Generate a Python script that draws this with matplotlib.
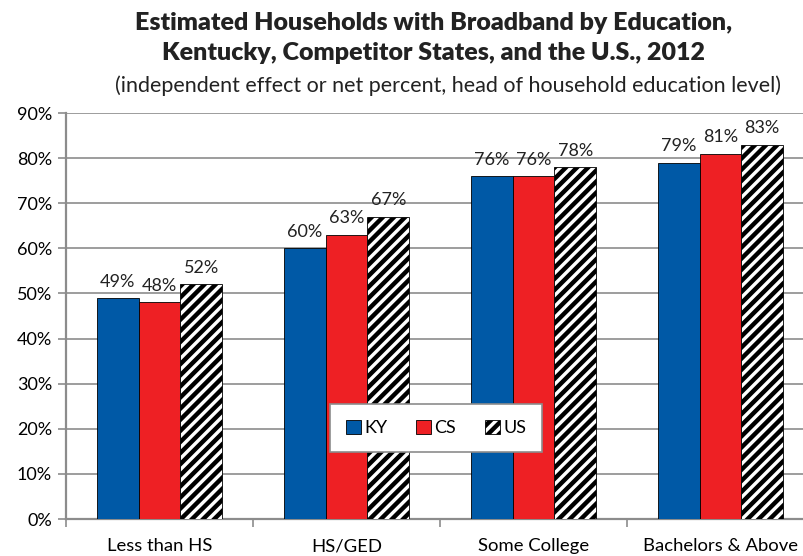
import numpy as np
import matplotlib
matplotlib.use("Agg")
from matplotlib import pyplot as plt

categories = ["Less than HS", "HS/GED", "Some College", "Bachelors & Above"]
ky = [49, 60, 76, 79]
cs = [48, 63, 76, 81]
us = [52, 67, 78, 83]
series_names = ["KY", "CS", "US"]

plt.rcParams["font.family"] = ["Lato", "DejaVu Sans"]
plt.rcParams["hatch.linewidth"] = 3.2

W, H = 804, 556
fig = plt.figure(figsize=(W / 100, H / 100), dpi=100)
# axes run past the right edge of the picture, as in the original crop
ax = fig.add_axes([66 / W, 1 - 519 / H, 748 / W, 406 / H])

grey = "#8c8c8c"
x = np.arange(len(categories))
bw = 0.223
kw = dict(edgecolor="black", linewidth=0.6)
b1 = ax.bar(x - bw, ky, bw, color="#0059a6", **kw, zorder=3)
b2 = ax.bar(x, cs, bw, color="#ee2024", **kw, zorder=3)
b3 = ax.bar(x + bw, us, bw, color="white", hatch="///", **kw, zorder=3)

for bars, vals in ((b1, ky), (b2, cs), (b3, us)):
    for r, v in zip(bars, vals):
        ax.annotate(f"{v}%", (r.get_x() + r.get_width() / 2, v), xytext=(0, 6),
                    textcoords="offset points", ha="center", va="bottom", fontsize=13, color="#222222")

ax.set_xlim(-0.5, 3.5)
ax.set_ylim(0, 90)
ax.set_yticks(range(0, 91, 10))
ax.set_yticklabels([f"{v}%" for v in range(0, 91, 10)], fontsize=13)
ax.set_xticks(x)
ax.set_xticklabels(categories, fontsize=13.3)
ax.set_xticks(np.arange(-0.5, 4, 1), minor=True)
ax.tick_params(axis="x", which="major", length=0, pad=14)
ax.tick_params(axis="x", which="minor", length=6, color=grey, width=1.2)
ax.tick_params(axis="y", length=6, color=grey, width=1.2, pad=4)
ax.grid(axis="y", color=grey, linewidth=1.2, zorder=0)
for s in ("top", "right"):
    ax.spines[s].set_visible(False)
for s in ("left", "bottom"):
    ax.spines[s].set_color(grey)
    ax.spines[s].set_linewidth(1.6)

leg = ax.legend([b1, b2, b3], series_names, loc="center", bbox_to_anchor=(0.495, 0.224), ncol=3,
                fontsize=13, frameon=True, fancybox=False, framealpha=1, handlelength=0.8, handleheight=0.8,
                columnspacing=1.6, handletextpad=0.2, borderpad=0.9, borderaxespad=0)
leg.get_frame().set_edgecolor(grey)
leg.get_frame().set_linewidth(1.2)
leg.set_zorder(5)

fig.text(434 / W, 1 - 23 / H, "Estimated Households with Broadband by Education,", ha="center", va="center",
         fontsize=18, fontweight="heavy", color="#222222")
fig.text(434 / W, 1 - 53 / H, "Kentucky, Competitor States, and the U.S., 2012", ha="center", va="center",
         fontsize=18, fontweight="heavy", color="#222222")
fig.text(448 / W, 1 - 86 / H, "(independent effect or net percent, head of household education level)",
         ha="center", va="center", fontsize=15.5, color="#222222")

fig.savefig("out.png", dpi=100)
